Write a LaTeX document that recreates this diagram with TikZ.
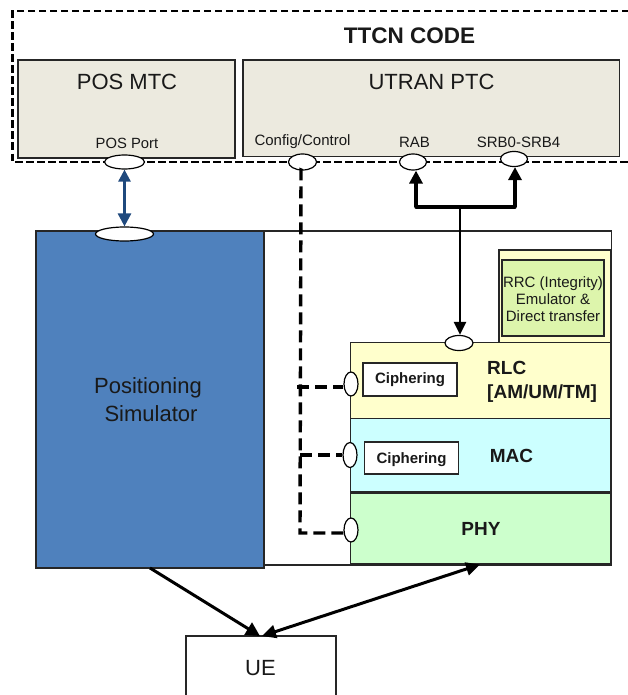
\documentclass[tikz,border=0pt]{standalone}
\usepackage{fontspec}
\setmainfont{Liberation Sans}
\usetikzlibrary{shapes.geometric,arrows.meta}
\definecolor{tan}{HTML}{ECEADF}
\definecolor{simblue}{HTML}{4F81BD}
\definecolor{dblue}{HTML}{1F497D}
\definecolor{rlcy}{HTML}{FFFFCC}
\definecolor{macc}{HTML}{CCFFFF}
\definecolor{phyg}{HTML}{CCFFCC}
\definecolor{rrcg}{HTML}{DDF5AC}
\tikzset{
  x=1pt,y=-1pt,
  box/.style={draw=black!85,line width=1.2pt,inner sep=0pt,rectangle},
  port/.style={ellipse,draw=black,fill=white,line width=1.2pt,inner sep=0pt},
  lab/.style={inner sep=0pt,align=center,text=black!90},
  big/.style={lab,font=\fontsize{22}{24}\selectfont},
  small/.style={lab,font=\fontsize{15}{17}\selectfont},
  boldl/.style={lab,font=\bfseries\fontsize{19}{24.5}\selectfont},
  ciph/.style={lab,font=\bfseries\fontsize{15}{17}\selectfont},
  dashl/.style={line width=3.4pt,dash pattern=on 12pt off 6pt},
  solidarr/.style={line width=3.2pt,-{Triangle[length=13pt,width=13pt]}},
}
\begin{document}
\begin{tikzpicture}
\useasboundingbox (0,0) rectangle (628,695);
\fill[white] (0,0) rectangle (628,695);
% dashed frame
\coordinate (fnw) at (12.5,11);
\coordinate (fsw) at (12.5,162);
\coordinate (fne) at (640,11);
\coordinate (fse) at (640,162);
\draw[line width=2.4pt,dash pattern=on 7.5pt off 3.5pt] (fne) -- (fnw) -- (fsw) -- (fse);
\node[lab,font=\bfseries\fontsize{22.5}{24}\selectfont] (ttcn) at (409.5,36) {TTCN CODE};
% MTC / PTC
\node[box,fill=tan,minimum width=217pt,minimum height=98pt] (mtc) at (126.5,109) {};
\node[box,fill=tan,minimum width=376.5pt,minimum height=96.5pt] (ptc) at (431.2,108.2) {};
\node[big] (mtcl) at (127,82) {POS MTC};
\node[big] (ptcl) at (431.5,82) {UTRAN PTC};
\node[small,font=\fontsize{14.8}{17}\selectfont] (posp) at (127,143.5) {POS Port};
\node[small] (cfg) at (302.5,142) {Config/Control};
\node[small] (rabl) at (414.5,142) {RAB};
\node[small] (srbl) at (518.5,142) {SRB0-SRB4};
% lower outer box and simulator
\node[box,fill=white,minimum width=347.5pt,minimum height=334pt] (outer) at (437.7,398) {};
\node[box,fill=simblue,minimum width=228pt,minimum height=337pt,line width=1.6pt] (sim) at (150,399.5) {};
\node[big] (siml1) at (148,388) {Positioning};
\node[big] (siml2) at (151,414) {Simulator};
% stack
\node[box,fill=rlcy,minimum width=112pt,minimum height=94pt] (rrco) at (555,297) {};
\node[box,fill=rrcg,minimum width=102pt,minimum height=76pt] (rrci) at (553,298) {};
\node[small] (rrcl) at (553,299) {RRC (Integrity)\\Emulator \&\\Direct transfer};
\node[box,fill=rlcy,minimum width=260.5pt,minimum height=76pt] (rlc) at (480.7,380.5) {};
\node[box,fill=macc,minimum width=260.5pt,minimum height=73.5pt] (mac) at (480.7,455) {};
\node[box,fill=phyg,minimum width=260.5pt,minimum height=71pt] (phy) at (480.7,528.5) {};
\node[box,fill=white,minimum width=94pt,minimum height=33pt] (c1) at (410,379.5) {};
\node[box,fill=white,minimum width=94pt,minimum height=32pt] (c2) at (411.5,458) {};
\node[ciph] (c1l) at (410,379.5) {Ciphering};
\node[ciph] (c2l) at (411.5,459.5) {Ciphering};
\node[boldl,align=left,anchor=west] (rlcl) at (487,382) {RLC\\{}[AM/UM/TM]};
\node[boldl] (macl) at (511.5,456) {MAC};
\node[boldl] (phyl) at (481,529) {PHY};
% ports
\node[port,minimum width=40pt,minimum height=14pt] (ppos) at (124.5,162) {};
\node[port,minimum width=28pt,minimum height=16pt] (pcfg) at (302.5,162) {};
\node[port,minimum width=27pt,minimum height=16pt] (prab) at (413,162) {};
\node[port,minimum width=27pt,minimum height=15pt] (psrb) at (514,159) {};
\node[port,minimum width=58pt,minimum height=14pt] (psim) at (124.5,234) {};
\node[port,minimum width=28pt,minimum height=15pt] (prlc) at (459,343) {};
\node[port,minimum width=14pt,minimum height=24pt] (lrlc) at (351,384) {};
\node[port,minimum width=14pt,minimum height=25pt] (lmac) at (350,455) {};
\node[port,minimum width=14pt,minimum height=24pt] (lphy) at (351,530) {};
% UE
\node[box,fill=white,minimum width=150pt,minimum height=70pt] (ue) at (261,671) {};
\node[big] (uel) at (260.5,668) {UE};
% connectors
\draw[dblue,line width=2.6pt,{Triangle[length=12pt,width=12pt]}-{Triangle[length=13pt,width=13pt]}] (ppos.south) -- (psim.north);
\coordinate (bus) at (460,207);
\coordinate (busl) at (416,207);
\coordinate (busr) at (515,207);
\draw[line width=3.4pt,line cap=round,line join=round] (busl) -- (busr);
\draw[solidarr] (busl) -- (prab.south -| busl);
\draw[solidarr] (busr) -- (psrb.south -| busr);
\draw[line width=2.6pt,-{Triangle[length=13pt,width=12pt]}] (bus) -- (prlc.north -| bus);
\coordinate (dtop) at (301,170);
\coordinate (dbot) at (300,533);
\coordinate (d1) at (297,387);
\coordinate (d2) at (300,455);
\draw[dashl] (pcfg.south) -- (dtop) -- (dbot) -- (lphy.west |- dbot);
\draw[dashl] (d1) -- (lrlc.west |- d1);
\draw[dashl] (d2) -- (lmac.west |- d2);
\coordinate (simo) at (150,568);
\coordinate (uet) at (260,636);
\coordinate (uet2) at (262,636);
\coordinate (phyb) at (480,564.5);
\draw[line width=3pt,-{Triangle[length=14pt,width=14pt]}] (simo) -- (uet);
\draw[line width=3pt,{Triangle[length=14pt,width=13pt]}-{Triangle[length=14pt,width=13pt]}] (uet2) -- (phyb);
\end{tikzpicture}
\end{document}
